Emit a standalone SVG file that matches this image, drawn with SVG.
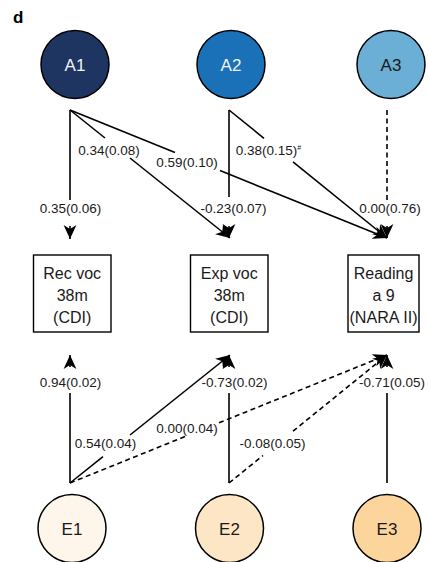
<svg xmlns="http://www.w3.org/2000/svg" width="429" height="562" viewBox="0 0 429 562">
<style>
  .lbl{font-family:"Liberation Sans",Arial,sans-serif;font-size:13.5px;fill:#1a1a1a;text-anchor:middle}
  .box{fill:#fff;stroke:#000;stroke-width:1.4}
  .btxt{font-family:"Liberation Sans",Arial,sans-serif;font-size:16px;fill:#1a1a1a;text-anchor:middle}
  .circ{stroke:#000;stroke-width:1.5}
  .ctxt{font-family:"Liberation Sans",Arial,sans-serif;font-size:17px;text-anchor:middle}
  .ln{stroke:#000;stroke-width:1.6;fill:none}
  .dsh{stroke-dasharray:5 3.5}
  .arr{marker-end:url(#ah)}
</style>
<defs>
  <marker id="ah" markerUnits="userSpaceOnUse" markerWidth="14" markerHeight="14" viewBox="0 0 12 12" refX="12" refY="6" orient="auto">
    <path d="M0,0.5 L12,6 L0,11.5 L3.5,6 Z" fill="#000" stroke="none"/>
  </marker>
</defs>
<text x="13" y="23" font-family="Liberation Sans,Arial,sans-serif" font-size="17" font-weight="bold" fill="#000">d</text>

<g id="connectors">
  <!-- A1 -> Rec voc -->
  <line class="ln" x1="70" y1="110" x2="70" y2="200"/>
  <line class="ln arr" x1="70" y1="226" x2="70" y2="239"/>
  <!-- A1 -> Exp voc -->
  <line class="ln" x1="70" y1="110" x2="105" y2="138"/>
  <line class="ln arr" x1="130" y1="158" x2="230" y2="238"/>
  <!-- A1 -> Reading -->
  <line class="ln" x1="70" y1="110" x2="175" y2="152.4"/>
  <line class="ln arr" x1="220" y1="170.6" x2="387" y2="238"/>
  <!-- A2 -> Exp voc -->
  <line class="ln" x1="229" y1="110" x2="229" y2="197"/>
  <line class="ln arr" x1="229" y1="226" x2="229" y2="238"/>
  <!-- A2 -> Reading -->
  <line class="ln" x1="229" y1="110" x2="264" y2="138.3"/>
  <line class="ln arr" x1="293" y1="161.8" x2="387" y2="238"/>
  <!-- A3 -> Reading -->
  <line class="ln dsh" x1="387" y1="110" x2="387" y2="200"/>
  <line class="ln arr" x1="387" y1="226" x2="387" y2="238"/>

  <!-- E1 -> Rec voc -->
  <line class="ln" x1="70" y1="483" x2="70" y2="393"/>
  <line class="ln arr" x1="70" y1="367" x2="70" y2="355"/>
  <!-- E1 -> Exp voc -->
  <line class="ln" x1="70" y1="483" x2="103" y2="456.6"/>
  <line class="ln arr" x1="130" y1="435" x2="230" y2="355"/>
  <!-- E1 -> Reading (dashed) -->
  <line class="ln dsh" x1="70" y1="483" x2="187" y2="435.7"/>
  <line class="ln dsh arr" x1="219" y1="422.8" x2="387" y2="355"/>
  <!-- E2 -> Exp voc -->
  <line class="ln" x1="229" y1="483" x2="229" y2="393"/>
  <line class="ln arr" x1="229" y1="367" x2="229" y2="355"/>
  <!-- E2 -> Reading (dashed) -->
  <line class="ln dsh" x1="229" y1="483" x2="263" y2="455.5"/>
  <line class="ln dsh arr" x1="293" y1="431.2" x2="387" y2="355"/>
  <!-- E3 -> Reading -->
  <line class="ln" x1="387" y1="483" x2="387" y2="393"/>
  <line class="ln arr" x1="387" y1="367" x2="387" y2="355"/>

  <!-- labels -->
  <text class="lbl" x="70.5" y="213">0.35(0.06)</text>
  <text class="lbl" x="109" y="155">0.34(0.08)</text>
  <text class="lbl" x="187" y="167">0.59(0.10)</text>
  <text class="lbl" x="268.5" y="155">0.38(0.15)<tspan font-size="7" dy="-5">#</tspan></text>
  <text class="lbl" x="233.5" y="213">-0.23(0.07)</text>
  <text class="lbl" x="390" y="213">0.00(0.76)</text>
  <text class="lbl" x="70.5" y="387">0.94(0.02)</text>
  <text class="lbl" x="234.5" y="387">-0.73(0.02)</text>
  <text class="lbl" x="392" y="387">-0.71(0.05)</text>
  <text class="lbl" x="105.5" y="448">0.54(0.04)</text>
  <text class="lbl" x="187" y="433">0.00(0.04)</text>
  <text class="lbl" x="272.5" y="448">-0.08(0.05)</text>
</g>

<g id="A1"><circle class="circ" cx="75" cy="64.5" r="34" fill="#1e3561"/><text class="ctxt" x="75" y="70.5" fill="#f2f2f2">A1</text></g>
<g id="A2"><circle class="circ" cx="231" cy="64.5" r="34" fill="#1a71b7"/><text class="ctxt" x="231" y="70.5" fill="#f2f2f2">A2</text></g>
<g id="A3"><circle class="circ" cx="391" cy="64.5" r="34" fill="#6baed6"/><text class="ctxt" x="391" y="70.5" fill="#1a1a1a">A3</text></g>

<g id="RecVoc"><rect class="box" x="33.5" y="255" width="77.5" height="77"/>
  <text class="btxt" x="72.2" y="279">Rec voc</text><text class="btxt" x="72.2" y="301">38m</text><text class="btxt" x="72.2" y="323">(CDI)</text></g>
<g id="ExpVoc"><rect class="box" x="190.5" y="255" width="77.5" height="77"/>
  <text class="btxt" x="229.2" y="279">Exp voc</text><text class="btxt" x="229.2" y="301">38m</text><text class="btxt" x="229.2" y="323">(CDI)</text></g>
<g id="Reading"><rect class="box" x="348" y="255" width="71" height="77"/>
  <text class="btxt" x="383.5" y="279">Reading</text><text class="btxt" x="383.5" y="301">a 9</text><text class="btxt" x="383.5" y="323" textLength="68" lengthAdjust="spacingAndGlyphs">(NARA II)</text></g>

<g id="E1"><circle class="circ" cx="72" cy="528.5" r="34" fill="#fef6ea"/><text class="ctxt" x="72" y="534.5" fill="#1a1a1a">E1</text></g>
<g id="E2"><circle class="circ" cx="229.5" cy="528.5" r="34" fill="#fde6c6"/><text class="ctxt" x="229.5" y="534.5" fill="#1a1a1a">E2</text></g>
<g id="E3"><circle class="circ" cx="387" cy="528.5" r="34" fill="#fcd59c"/><text class="ctxt" x="387" y="534.5" fill="#1a1a1a">E3</text></g>
</svg>
